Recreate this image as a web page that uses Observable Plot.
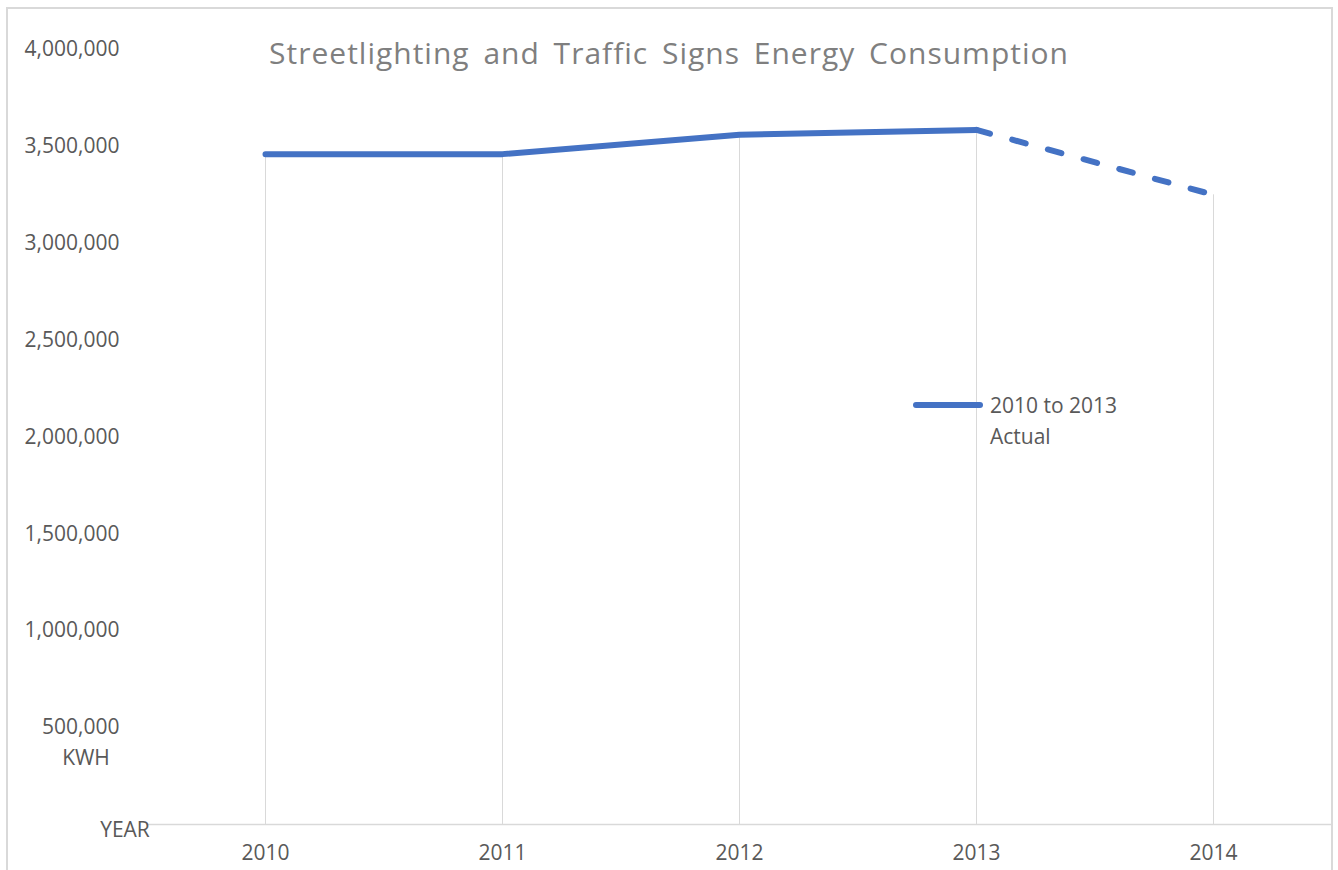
<!DOCTYPE html>
<html>
<head>
<meta charset="utf-8">
<script src="https://cdn.jsdelivr.net/npm/d3@7"></script>
<script src="https://cdn.jsdelivr.net/npm/@observablehq/plot@0.6"></script>
<style>
  html, body { margin: 0; padding: 0; background: #fff; overflow: hidden; }
  #wrap { position: relative; width: 1338px; height: 870px; font-family: "Open Sans", "Noto Sans", sans-serif; color: #595959; }
  #frame { position: absolute; left: 6px; top: 7px; width: 1327px; height: 900px; border: 2px solid #d9d9d9; border-bottom: none; box-sizing: border-box; pointer-events: none; }
  .lbl { position: absolute; white-space: nowrap; }
  #title { left: 0; width: 1338px; top: 32px; text-align: center; font-size: 30px; color: #7f7f7f; letter-spacing: 1px; word-spacing: 5px; }
  #kwh { left: 51px; width: 70px; text-align: center; top: 743px; font-size: 21px; }
  #year { left: 90px; width: 70px; text-align: center; top: 815px; font-size: 21px; }
  #legend { position: absolute; left: 913px; top: 390px; display: flex; align-items: flex-start; }
  #legend .sw { width: 70px; height: 6px; background: #4472C4; border-radius: 3px; margin-top: 12px; }
  #legend .tx { margin-left: 7px; font-size: 21px; line-height: 31px; color: #595959; }
</style>
</head>
<body>
<div id="wrap">
  <div id="chart"></div>
  <div id="frame"></div>
  <div id="title" class="lbl">Streetlighting and Traffic Signs Energy Consumption</div>
  <div id="kwh" class="lbl">KWH</div>
  <div id="year" class="lbl">YEAR</div>
  <div id="legend"><div class="sw"></div><div class="tx" id="legendText"></div></div>
</div>
<script>
// Data
const years = ["2010", "2011", "2012", "2013", "2014"];
const kwh = [3460000, 3460000, 3560000, 3585000, 3250000];
const actualYears = ["2010", "2011", "2012", "2013"];
const projectedYears = ["2013", "2014"];
const yTicks = [500000, 1000000, 1500000, 2000000, 2500000, 3000000, 3500000, 4000000];
const legendLabel = ["2010 to 2013", "Actual"];

const rows = years.map((y, i) => ({year: y, value: kwh[i]}));
const actual = rows.filter(d => actualYears.includes(d.year));
const projected = rows.filter(d => projectedYears.includes(d.year));

document.getElementById("legendText").innerHTML = legendLabel.join("<br>");

const blue = "#4472C4";
const chart = Plot.plot({
  width: 1338,
  height: 870,
  marginLeft: 146,
  marginRight: 7,
  marginTop: 49,
  marginBottom: 46,
  style: {fontFamily: "'Open Sans', 'Noto Sans', sans-serif", fontSize: "21px", color: "#595959", background: "transparent"},
  x: {type: "point", domain: years, padding: 0.5, label: null},
  y: {domain: [0, 4000000], label: null},
  marks: [
    Plot.ruleX(rows, {x: "year", y1: 0, y2: "value", stroke: "#d9d9d9", strokeWidth: 1}),
    Plot.ruleY([0], {stroke: "#d9d9d9", strokeWidth: 1.5}),
    Plot.axisY({ticks: yTicks, tickSize: 0, tickPadding: 27, tickFormat: d3.format(","), fill: "#595959", fontSize: 21}),
    Plot.axisX({tickSize: 0, tickPadding: 21, fill: "#595959", fontSize: 21}),
    Plot.line(actual, {x: "year", y: "value", stroke: blue, strokeWidth: 6, strokeLinecap: "round", strokeLinejoin: "round"}),
    Plot.line(projected, {x: "year", y: "value", stroke: blue, strokeWidth: 6, strokeLinecap: "round", strokeDasharray: "14,23"})
  ]
});
document.getElementById("chart").appendChild(chart);
</script>
</body>
</html>
